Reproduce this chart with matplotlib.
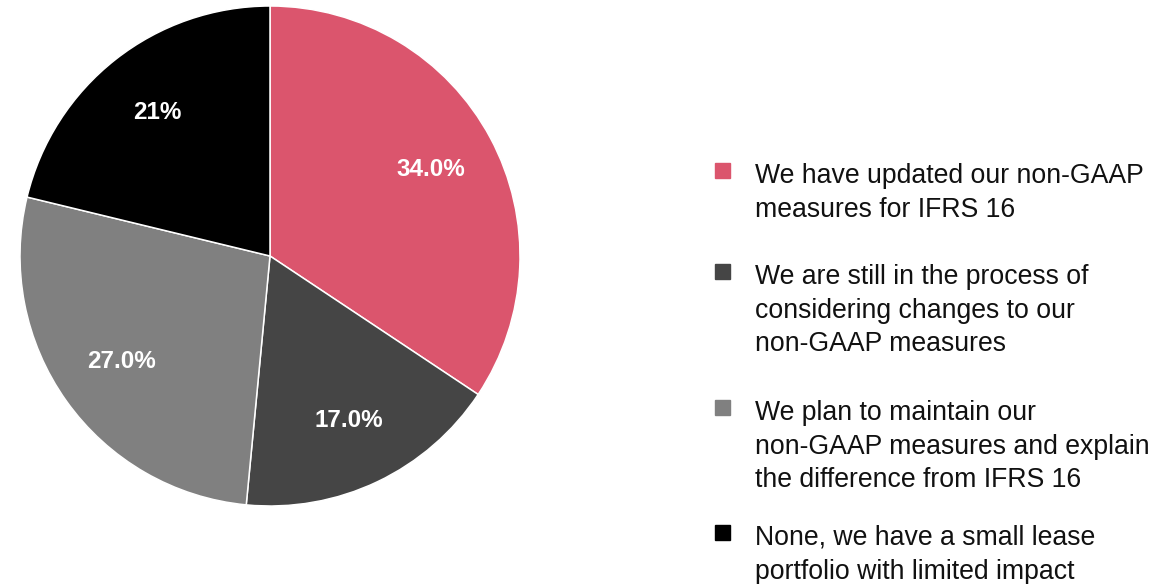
import matplotlib.pyplot as plt
from matplotlib.patches import Rectangle

# === Data ===
categories = [
    "We have updated our non-GAAP\nmeasures for IFRS 16",
    "We are still in the process of\nconsidering changes to our\nnon-GAAP measures",
    "We plan to maintain our\nnon-GAAP measures and explain\nthe difference from IFRS 16",
    "None, we have a small lease\nportfolio with limited impact",
]
values = [34.0, 17.0, 27.0, 21.0]
value_labels = ["34.0%", "17.0%", "27.0%", "21%"]
colors = ["#DB556D", "#454545", "#808080", "#000000"]

W, H = 1175, 584
plt.rcParams['font.family'] = ['Liberation Sans', 'DejaVu Sans']

fig = plt.figure(figsize=(W / 100, H / 100), dpi=100)

# pie: centre (270, 256) px, radius 250 px
cx, cy, r = 270, 256, 250
ax = fig.add_axes([(cx - r) / W, (H - cy - r) / H, 2 * r / W, 2 * r / H])
wedges, texts, autotexts = ax.pie(
    values, colors=colors, startangle=90, counterclock=False,
    autopct='%1.1f%%', pctdistance=0.73, radius=1,
    wedgeprops=dict(edgecolor='white', linewidth=1.1),
)
for t, lab in zip(autotexts, value_labels):
    t.set_text(lab)
    t.set_color('white')
    t.set_fontsize(17.5)
    t.set_fontweight('bold')
ax.set_xlim(-1, 1)
ax.set_ylim(-1, 1)
ax.set_aspect('equal')
ax.axis('off')

# === Legend, drawn by hand so the square sits beside the first line ===
legend_tops = [165, 266, 402, 527]   # top of first text line, px from top
sq_x, sq_size, text_x = 715, 15, 755
for lab, col, top in zip(categories, colors, legend_tops):
    fig.patches.append(Rectangle(((sq_x) / W, (H - top - sq_size + 2) / H),
                                 sq_size / W, sq_size / H,
                                 transform=fig.transFigure, color=col))
    fig.text(text_x / W, (H - top + 2) / H, lab, fontsize=19.2,
             color='#111111', va='top', ha='left', linespacing=1.38)

fig.savefig('out.png', dpi=100)
